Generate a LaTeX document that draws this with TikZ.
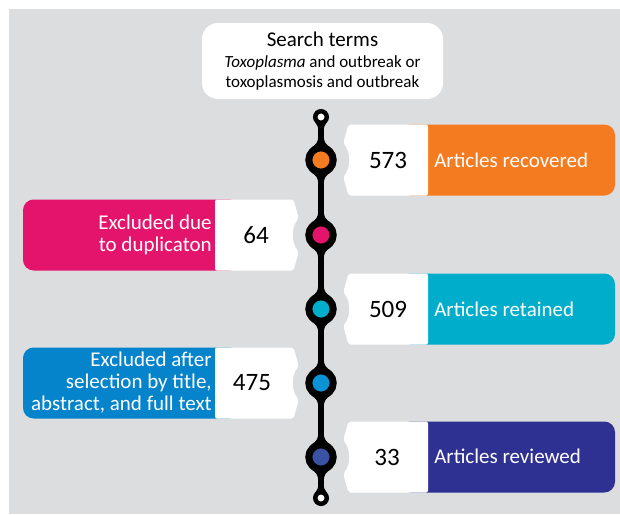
\documentclass[tikz,border=0pt]{standalone}
\usepackage{fontspec}
\setmainfont{Carlito}
\definecolor{bggray}{HTML}{DCDDDF}
\definecolor{recorange}{HTML}{F47B20}
\definecolor{duppink}{HTML}{E4136B}
\definecolor{retcyan}{HTML}{00ADCA}
\definecolor{selblue}{HTML}{0583CB}
\definecolor{seldot}{HTML}{0A93D5}
\definecolor{revnavy}{HTML}{2E3192}
\definecolor{revdot}{HTML}{3A52A4}

\begin{document}
\begin{tikzpicture}[x=0.75pt, y=-0.75pt,
    metro/.style={line width=4.125pt},
    station/.style={circle, draw=black, line width=5.25pt, minimum size=18.3pt, inner sep=0pt},
    endring/.style={circle, draw=black, fill=white, line width=3.375pt, minimum size=8.625pt, inner sep=0pt},
    searchbox/.style={fill=white, rounded corners=12pt, minimum width=180.75pt, minimum height=57pt, align=center, inner sep=0pt, font=\fontsize{12.75}{15}\selectfont},
    boxtext/.style={text=white, inner sep=0pt, font=\fontsize{15.75}{16.5}\selectfont},
    numtext/.style={inner sep=0pt, font=\fontsize{18.75}{20}\selectfont},
    colorbar/.style={rounded corners=8pt},
    whitetab/.style={fill=white, rounded corners=1.5pt},
    flare/.style={insert path={(-2.75,-24) .. controls (-2.75,-18) and (-5,-15) .. (-10,-12.3) -- (10,-12.3) .. controls (5,-15) and (2.75,-18) .. (2.75,-24) -- cycle
        (-2.75,24) .. controls (-2.75,18) and (-5,15) .. (-10,12.3) -- (10,12.3) .. controls (5,15) and (2.75,18) .. (2.75,24) -- cycle}},
    ringflare/.style={insert path={(-2.75,14) .. controls (-2.75,10) and (-3.5,8) .. (-5.5,5.8) -- (5.5,5.8) .. controls (3.5,8) and (2.75,10) .. (2.75,14) -- cycle}},
    righttab/.style={insert path={(107,-35.5) -- (27.5,-35.5) -- (-37.4:28) arc[start angle=-37.4, end angle=37.4, radius=28] -- (27.5,35.5) -- (107,35.5) -- cycle}},
    lefttab/.style={insert path={(-106,-35.5) -- (-27.5,-35.5) -- (217.4:28) arc[start angle=217.4, end angle=142.6, radius=28] -- (-27.5,35.5) -- (-106,35.5) -- cycle}},
    rightbar/.style={insert path={(79,-35.5) rectangle (294,35.5)}},
    leftbar/.style={insert path={(-298,-35.5) rectangle (-81,35.5)}}]
    \useasboundingbox (0,0) rectangle (620,514);
    \fill[bggray] (9,9) rectangle (620,514);

    % search terms
    \node[searchbox] (search) at (322.5,61) {{\fontsize{15.75}{16}\selectfont Search terms}\\[0.75pt] \textit{Toxoplasma} and outbreak or\\ toxoplasmosis and outbreak};

    % the line
    \node[endring] (top) at (321,117) {};
    \node[station, fill=recorange] (s1) at (321,160) {};
    \node[station, fill=duppink] (s2) at (321,235) {};
    \node[station, fill=retcyan] (s3) at (321,309) {};
    \node[station, fill=seldot] (s4) at (321,383) {};
    \node[station, fill=revdot] (s5) at (321,457) {};
    \node[endring] (bottom) at (321,498) {};
    \draw[metro] (top) -- (s1) -- (s2) -- (s3) -- (s4) -- (s5) -- (bottom);
    \fill[shift={(top.center)}, ringflare];
    \fill[shift={(bottom.center)}, yscale=-1, ringflare];
    \fill[shift={(s1.center)}, flare];
    \fill[shift={(s2.center)}, flare];
    \fill[shift={(s3.center)}, flare];
    \fill[shift={(s4.center)}, flare];
    \fill[shift={(s5.center)}, flare];

    % boxes
    \fill[recorange, colorbar, shift={(s1.center)}, rightbar];
    \fill[whitetab, shift={(s1.center)}, righttab];
    \fill[duppink, colorbar, shift={(s2.center)}, leftbar];
    \fill[whitetab, shift={(s2.center)}, lefttab];
    \fill[retcyan, colorbar, shift={(s3.center)}, rightbar];
    \fill[whitetab, shift={(s3.center)}, righttab];
    \fill[selblue, colorbar, shift={(s4.center)}, leftbar];
    \fill[whitetab, shift={(s4.center)}, lefttab];
    \fill[revnavy, colorbar, shift={(s5.center)}, rightbar];
    \fill[whitetab, shift={(s5.center)}, righttab];

    \node[numtext] (n1) at (388,160) {573};
    \node[boxtext, anchor=west] (l1) at (434,160) {Articles recovered};
    \node[numtext] (n2) at (256,235) {64};
    \node[boxtext, anchor=east, align=right] (l2) at (212,235) {Excluded due\\to duplicaton};
    \node[numtext] (n3) at (388,309) {509};
    \node[boxtext, anchor=west] (l3) at (434,309) {Articles retained};
    \node[numtext] (n4) at (252,383) {475};
    \node[boxtext, anchor=east, align=right] (l4) at (212,383) {Excluded after\\selection by title,\\abstract, and full text};
    \node[numtext] (n5) at (387,457) {33};
    \node[boxtext, anchor=west] (l5) at (434,456) {Articles reviewed};
\end{tikzpicture}
\end{document}
